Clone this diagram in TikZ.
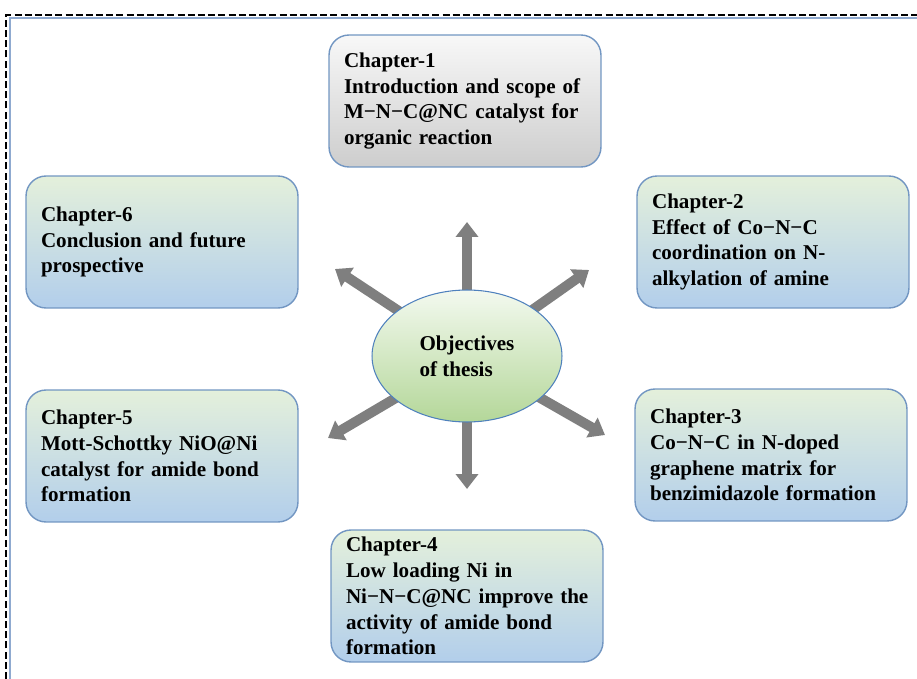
\documentclass[tikz,border=0pt]{standalone}
\usepackage{fontspec}
\setmainfont{Liberation Serif}
\usetikzlibrary{arrows.meta, shapes.geometric}
\definecolor{boxline}{HTML}{7296C2}
\definecolor{boxtop}{HTML}{E4F0DB}
\definecolor{boxbot}{HTML}{B2CEEB}
\definecolor{greytop}{HTML}{F8F8F8}
\definecolor{greybot}{HTML}{CDCDCD}
\definecolor{ovaltop}{HTML}{F3F9EF}
\definecolor{ovalbot}{HTML}{B4D799}
\definecolor{ovalline}{HTML}{4F81BD}
\definecolor{arrgrey}{HTML}{7F7F7F}
\definecolor{frameblue}{HTML}{8FAAD0}
\begin{document}
\begin{tikzpicture}[x=0.02cm, y=-0.02cm,
	every node/.style={font=\fontsize{12}{14.7}\selectfont\bfseries},
	chapbox/.style={draw=boxline, line width=0.8pt, rounded corners=0.4cm, top color=boxtop, bottom color=boxbot, text width=4.84cm, inner xsep=0.3cm, minimum height=2.64cm, align=left},
	greybox/.style={chapbox, top color=greytop, bottom color=greybot},
	oval/.style={ellipse, draw=ovalline, line width=0.6pt, top color=ovaltop, bottom color=ovalbot, minimum width=3.8cm, minimum height=2.64cm, align=left, inner sep=0pt},
	arr/.style={draw=arrgrey, line width=0.2cm, -{Triangle[width=0.44cm, length=0.3cm]}}]
	\useasboundingbox (0,0) rectangle (917,679);
	\draw[line width=1.5pt, dash pattern=on 4pt off 1.8pt] (6,679) -- (6,15) -- (917,15);
	\draw[frameblue, line width=0.6pt] (10,679) -- (10,18) -- (917,18);
	\node[greybox] (ch1) at (465,101) {Chapter-1\\Introduction and scope of\\M−N−C@NC catalyst for\\organic reaction};
	\node[chapbox] (ch2) at (773,242) {Chapter-2\\Effect of Co−N−C\\coordination on N-\\alkylation of amine};
	\node[chapbox] (ch3) at (771,455) {Chapter-3\\Co−N−C in N-doped\\graphene matrix for\\benzimidazole formation};
	\node[chapbox] (ch4) at (467,596) {Chapter-4\\Low loading Ni in\\\mbox{Ni−N−C@NC improve the}\\activity of amide bond\\formation};
	\node[chapbox] (ch5) at (162,456) {Chapter-5\\Mott-Schottky NiO@Ni\\catalyst for amide bond\\formation};
	\node[chapbox] (ch6) at (162,242) {Chapter-6\\Conclusion and future\\prospective};
	\coordinate (c) at (467,356);
	\coordinate (tu) at (467,222);
	\coordinate (tur) at (589,270);
	\coordinate (tdr) at (605,435);
	\coordinate (td) at (467,489);
	\coordinate (tdl) at (328,438);
	\coordinate (tul) at (335,269);
	\draw[arr] (c) -- (tu);
	\draw[arr] (c) -- (tur);
	\draw[arr] (c) -- (tdr);
	\draw[arr] (c) -- (td);
	\draw[arr] (c) -- (tdl);
	\draw[arr] (c) -- (tul);
	\node[oval] (obj) at (c) {Objectives\\of thesis};
\end{tikzpicture}
\end{document}
